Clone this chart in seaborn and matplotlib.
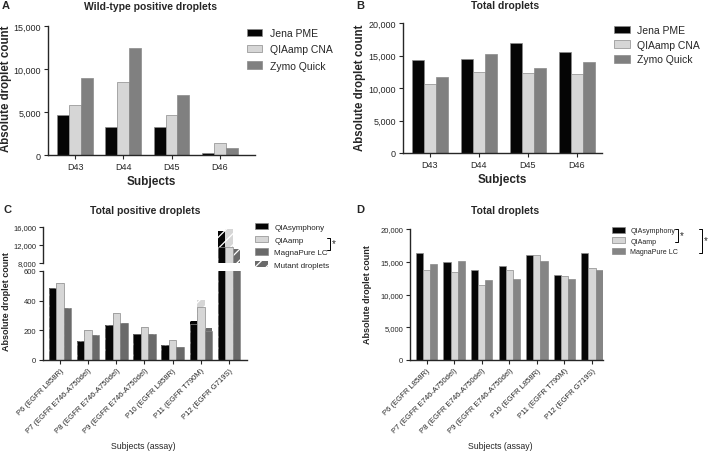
import numpy as np
import pandas as pd
import matplotlib
matplotlib.use("Agg")
import matplotlib.pyplot as plt
import seaborn as sns
from matplotlib.patches import Patch
from matplotlib.lines import Line2D
from matplotlib.ticker import StrMethodFormatter

# ---- panels A / B : healthy donors, three extraction kits
donors = ["D43", "D44", "D45", "D46"]
kits_ab = ["Jena PME", "QIAamp CNA", "Zymo Quick"]
wt_pos_jena = [4600, 3200, 3300, 200]
wt_pos_qiaamp = [5800, 8500, 4600, 1400]
wt_pos_zymo = [9000, 12400, 7000, 800]
total_jena = [14300, 14400, 16900, 15500]
total_qiaamp = [10600, 12500, 12350, 12100]
total_zymo = [11700, 15200, 13100, 14000]

# ---- panels C / D : patients, three extraction systems
patients = ["P6 (EGFR L858R)", "P7 (EGFR E746-A750del)", "P8 (EGFR E746-A750del)",
            "P9 (EGFR E746-A750del)", "P10 (EGFR L858R)", "P11 (EGFR T790M)",
            "P12 (EGFR G719S)"]
kits_cd = ["QIAsymphony", "QIAamp", "MagnaPure LC"]
pos_qsym = [487, 131, 239, 177, 101, 262, 15200]
pos_qiaamp = [519, 200, 320, 223, 138, 402, 15500]
pos_magna = [349, 166, 250, 175, 85, 216, 11100]
mut_qsym = [0, 0, 0, 0, 0, 20, 3600]
mut_qiaamp = [0, 0, 0, 0, 0, 48, 4000]
mut_magna = [0, 0, 0, 0, 0, 18, 3000]
drops_qsym = [16300, 14950, 13800, 14300, 16100, 13050, 16300]
drops_qiaamp = [13700, 13500, 11500, 13700, 16100, 12800, 14100]
drops_magna = [14700, 15100, 12200, 12300, 15050, 12300, 13700]

pal_ab = ["#050505", "#d6d6d6", "#808080"]
pal_c = ["#050505", "#d6d6d6", "#6a6a6a"]
pal_d = ["#050505", "#d6d6d6", "#858585"]


def long_df(cats, names, series):
    rows = []
    for name, vals in zip(names, series):
        for c, v in zip(cats, vals):
            rows.append({"cat": c, "kit": name, "count": v})
    return pd.DataFrame(rows)


sns.set_style("ticks")
plt.rcParams["font.family"] = ["Liberation Sans", "DejaVu Sans"]
plt.rcParams["hatch.linewidth"] = 0.9

W, H = 709, 452
fig = plt.figure(figsize=(W / 100, H / 100), dpi=100)


def box(l, t, r, b):
    return [l / W, 1 - b / H, (r - l) / W, (b - t) / H]


def style(ax, size):
    sns.despine(ax=ax)
    ax.tick_params(labelsize=size, length=3, width=0.8, pad=2)
    for s in ("left", "bottom"):
        ax.spines[s].set_linewidth(1.0)
    ax.yaxis.set_major_formatter(StrMethodFormatter("{x:,.0f}"))
    ax.set_xlabel("")
    ax.set_ylabel("")


def bars(ax, df, pal, width, legend):
    sns.barplot(df, x="cat", y="count", hue="kit", palette=pal, saturation=1,
                width=width, errorbar=None, edgecolor="#8a8a8a", linewidth=0.5,
                legend=legend, ax=ax)


def bracket(x, top, bottom, star_y):
    fig.add_artist(Line2D([x / W, (x + 3) / W, (x + 3) / W, x / W],
                          [1 - top / H, 1 - top / H, 1 - bottom / H, 1 - bottom / H],
                          color="black", lw=0.7, transform=fig.transFigure))
    fig.text((x + 4.5) / W, 1 - star_y / H, "*", ha="left", va="center", fontsize=7)


# ---------------- A
axA = fig.add_axes(box(48, 27, 255, 156))
bars(axA, long_df(donors, kits_ab, [wt_pos_jena, wt_pos_qiaamp, wt_pos_zymo]), pal_ab, 0.74, True)
style(axA, 6.5)
axA.set_ylim(0, 15000)
axA.set_yticks([0, 5000, 10000, 15000])
axA.set_xlim(-0.56, 3.73)
axA.set_xlabel("Subjects", fontsize=8.5, fontweight="bold", labelpad=3)
axA.set_ylabel("Absolute droplet count", fontsize=8.3, fontweight="bold")
axA.yaxis.set_label_coords(12 / W, 1 - 89 / H, transform=fig.transFigure)
h, l = axA.get_legend_handles_labels()
axA.legend(h, l, loc="upper left", bbox_to_anchor=(247 / W, 1 - 29 / H),
           bbox_transform=fig.transFigure, frameon=False, fontsize=7.5,
           handlelength=1.4, handleheight=0.75, labelspacing=0.6,
           handletextpad=0.8, borderpad=0, borderaxespad=0)

# ---------------- B
axB = fig.add_axes(box(403, 24, 602, 154))
bars(axB, long_df(donors, kits_ab, [total_jena, total_qiaamp, total_zymo]), pal_ab, 0.74, True)
style(axB, 6.5)
axB.set_ylim(0, 20000)
axB.set_yticks([0, 5000, 10000, 15000, 20000])
axB.set_xlim(-0.55, 3.51)
axB.set_xlabel("Subjects", fontsize=8.5, fontweight="bold", labelpad=3)
axB.set_ylabel("Absolute droplet count", fontsize=8.3, fontweight="bold")
axB.yaxis.set_label_coords(366 / W, 1 - 88 / H, transform=fig.transFigure)
h, l = axB.get_legend_handles_labels()
axB.legend(h, l, loc="upper left", bbox_to_anchor=(614 / W, 1 - 26 / H),
           bbox_transform=fig.transFigure, frameon=False, fontsize=7.5,
           handlelength=1.5, handleheight=0.75, labelspacing=0.45,
           handletextpad=0.7, borderpad=0, borderaxespad=0)

# ---------------- C (broken axis)
df_pos = long_df(patients, kits_cd, [pos_qsym, pos_qiaamp, pos_magna])
df_wt = long_df(patients, kits_cd,
                [np.subtract(pos_qsym, mut_qsym), np.subtract(pos_qiaamp, mut_qiaamp),
                 np.subtract(pos_magna, mut_magna)])
axCt = fig.add_axes(box(43, 228, 247, 264))
axCb = fig.add_axes(box(43, 272, 247, 361))
for ax in (axCt, axCb):
    sns.barplot(df_pos, x="cat", y="count", hue="kit", palette=pal_c, saturation=1,
                width=0.8, errorbar=None, linewidth=0, legend=False, ax=ax)
    for p in ax.patches:
        p.set_hatch("///")
        p.set_edgecolor("white")
    bars(ax, df_wt, pal_c, 0.8, ax is axCb)
    style(ax, 5.5)
    ax.set_xlim(-0.6, 6.64)
axCt.set_ylim(8000, 16000)
axCt.set_yticks([8000, 12000, 16000])
axCt.spines["bottom"].set_visible(False)
axCt.tick_params(axis="x", bottom=False, labelbottom=False)
axCb.set_ylim(0, 600)
axCb.set_yticks([0, 200, 400, 600])
axCb.set_xticks(range(len(patients)))
axCb.set_xticklabels(patients, rotation=45, ha="right", rotation_mode="anchor", fontsize=5.5)
h, l = axCb.get_legend_handles_labels()
h = h + [Patch(facecolor="#6a6a6a", edgecolor="white", hatch="///", linewidth=0)]
l = l + ["Mutant droplets"]
axCb.legend(h, l, loc="upper left", bbox_to_anchor=(255 / W, 1 - 224 / H),
            bbox_transform=fig.transFigure, frameon=False, fontsize=5.8,
            handlelength=1.6, handleheight=0.8, labelspacing=0.6,
            handletextpad=0.8, borderpad=0, borderaxespad=0)
fig.text(7 / W, 1 - 302 / H, "Absolute droplet count", rotation=90, ha="center",
         va="center", fontsize=6.5, fontweight="bold")
fig.text(143 / W, 1 - 447 / H, "Subjects (assay)", ha="center", va="center", fontsize=6.3)
bracket(327, 239, 251, 244)

# ---------------- D
axD = fig.add_axes(box(410, 230, 603, 361))
bars(axD, long_df(patients, kits_cd, [drops_qsym, drops_qiaamp, drops_magna]), pal_d, 0.78, True)
style(axD, 5.5)
axD.set_ylim(0, 20000)
axD.set_yticks([0, 5000, 10000, 15000, 20000])
axD.set_xlim(-0.6, 6.4)
axD.set_xticks(range(len(patients)))
axD.set_xticklabels(patients, rotation=45, ha="right", rotation_mode="anchor", fontsize=5.5)
axD.set_ylabel("Absolute droplet count", fontsize=6.5, fontweight="bold")
axD.yaxis.set_label_coords(372 / W, 1 - 295 / H, transform=fig.transFigure)
h, l = axD.get_legend_handles_labels()
axD.legend(h, l, loc="upper left", bbox_to_anchor=(612 / W, 1 - 228 / H),
           bbox_transform=fig.transFigure, frameon=False, fontsize=5.1,
           handlelength=1.8, handleheight=0.85, labelspacing=0.45,
           handletextpad=0.8, borderpad=0, borderaxespad=0)
fig.text(500 / W, 1 - 447 / H, "Subjects (assay)", ha="center", va="center", fontsize=6.3)
bracket(675, 230, 243, 236)
bracket(699, 230, 254, 241)

# ---------------- titles and panel letters
fig.text(150 / W, 1 - 7 / H, "Wild-type positive droplets", ha="center", va="center",
         fontsize=7.5, fontweight="bold")
fig.text(505 / W, 1 - 6 / H, "Total droplets", ha="center", va="center",
         fontsize=7.5, fontweight="bold")
fig.text(145 / W, 1 - 211 / H, "Total positive droplets", ha="center", va="center",
         fontsize=7.5, fontweight="bold")
fig.text(505 / W, 1 - 211 / H, "Total droplets", ha="center", va="center",
         fontsize=7.5, fontweight="bold")
for x, y, s in [(2, 6, "A"), (356, 6, "B"), (3, 210, "C"), (356, 210, "D")]:
    fig.text(x / W, 1 - y / H, s, ha="left", va="center", fontsize=8, fontweight="bold")

fig.savefig("out.png", dpi=100)
